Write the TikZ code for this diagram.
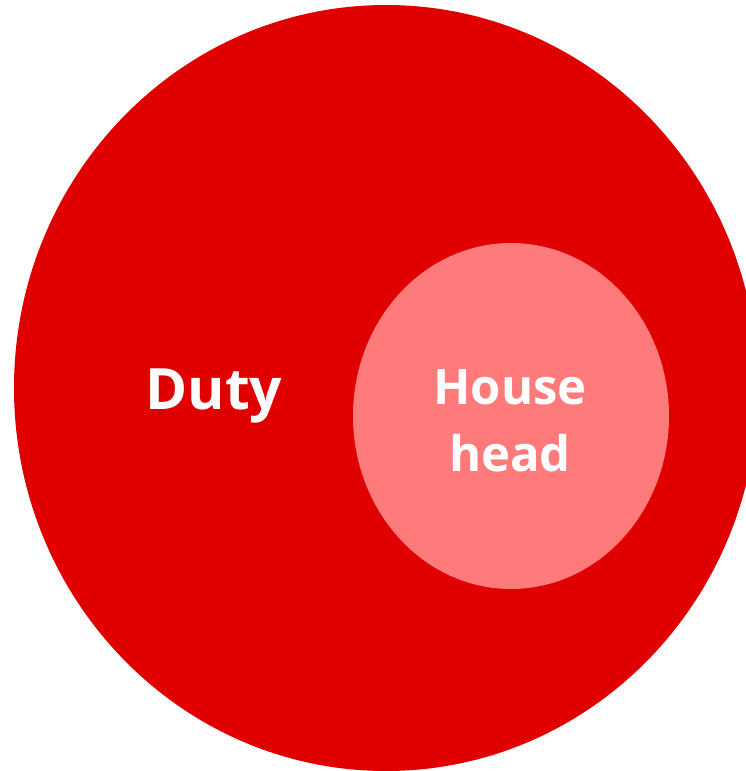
\documentclass[tikz,border=0pt]{standalone}
\usepackage{fontspec}
\setmainfont{Open Sans}
\definecolor{dutyred}{RGB}{225,0,0}
\definecolor{headpink}{RGB}{255,123,123}
\tikzset{label text/.style={text=white, inner sep=0pt, align=center}}
\begin{document}
\begin{tikzpicture}[x=1pt, y=-1pt]
    \useasboundingbox (0,0) rectangle (746,771);
    \begin{scope}
    \clip (0,0) rectangle (746,771);
    \fill[dutyred] (386,388) ellipse [x radius=372, y radius=383];
    \end{scope}
    \fill[headpink] (511,416) ellipse [x radius=158, y radius=173];
    \node[label text, font=\fontsize{57}{60}\selectfont\bfseries, anchor=base] (duty) at (214,409) {Duty};
    \node[label text, font=\fontsize{49}{67}\selectfont\bfseries] (househead) at (510,421) {House\\head};
\end{tikzpicture}
\end{document}
